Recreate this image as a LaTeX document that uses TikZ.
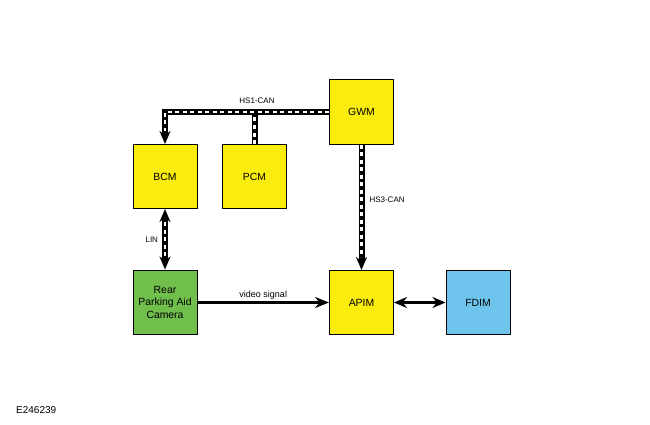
\documentclass[tikz,border=0pt]{standalone}
\usepackage{fontspec}
\setmainfont{Liberation Sans}
\usepackage{xcolor}
\usepackage{tikz}
\usetikzlibrary{arrows.meta,positioning,calc}
\definecolor{modyellow}{RGB}{250,236,12}
\definecolor{camgreen}{RGB}{112,190,76}
\definecolor{fdimblue}{RGB}{110,196,236}

\begin{document}
\begin{tikzpicture}[x=1pt,y=-1pt,
		module/.style={draw=black,line width=1pt,minimum width=64pt,minimum height=64pt,inner sep=1pt,align=center,font=\fontsize{10.4}{12.5}\selectfont},
		lbl/.style={font=\fontsize{8}{10}\selectfont,inner sep=2pt},
		bus/.style={line width=6pt,draw=black},
		busdash/.style={postaction={draw=white,line width=2.4pt,dash pattern=on 4pt off 3.5pt,arrows=-,#1}},
		busdash/.default={},
		sig/.style={line width=3pt,draw=black},
		tip/.style={-{Stealth[length=14pt,width=11pt]}},
		tips/.style={{Stealth[length=13pt,width=11pt]}-{Stealth[length=13pt,width=11pt]}}]
		\useasboundingbox (0,0) rectangle (650,425);
		% modules
		\node[module,fill=modyellow] (GWM) at (361.5,112) {GWM};
		\node[module,fill=modyellow] (BCM) at (165,176.5) {BCM};
		\node[module,fill=modyellow] (PCM) at (254.5,176.5) {PCM};
		\node[module,fill=camgreen] (cam) at (165,302) {Rear\\Parking Aid\\Camera};
		\node[module,fill=modyellow] (APIM) at (361.5,302.5) {APIM};
		\node[module,fill=fdimblue] (FDIM) at (478,302.5) {FDIM};
		% HS1-CAN bus
		\draw[bus,busdash,arrows=-] (PCM.north) -- (PCM.north |- GWM.west);
		\draw[bus,busdash={shorten >=13pt},-{Stealth[length=13pt,width=11pt]}] (GWM.west) -| (BCM.north);
		\node[lbl] (hsone) at (257,101) {HS1-CAN};
		% HS3-CAN bus
		\draw[bus,busdash={shorten >=13pt},-{Stealth[length=13pt,width=11pt]}] (GWM.south) -- (APIM.north)
			node[lbl,pos=0.44,right=3pt] (hsthree) {HS3-CAN};
		% LIN
		\draw[bus,busdash={shorten >=13pt,shorten <=13pt},tips] (BCM.south) -- (cam.north)
			node[lbl,midway,left=2pt] (lin) {LIN};
		% video and FDIM
		\draw[sig,tip] (cam.east |- APIM.west) -- (APIM.west)
			node[lbl,midway,above,font=\fontsize{9}{11}\selectfont] (video) {video signal};
		\draw[sig,tips] (APIM.east) -- (FDIM.west);
		\node[lbl,anchor=west,font=\fontsize{10}{12}\selectfont] (fig) at (14,410) {E246239};
	\end{tikzpicture}
\end{document}
